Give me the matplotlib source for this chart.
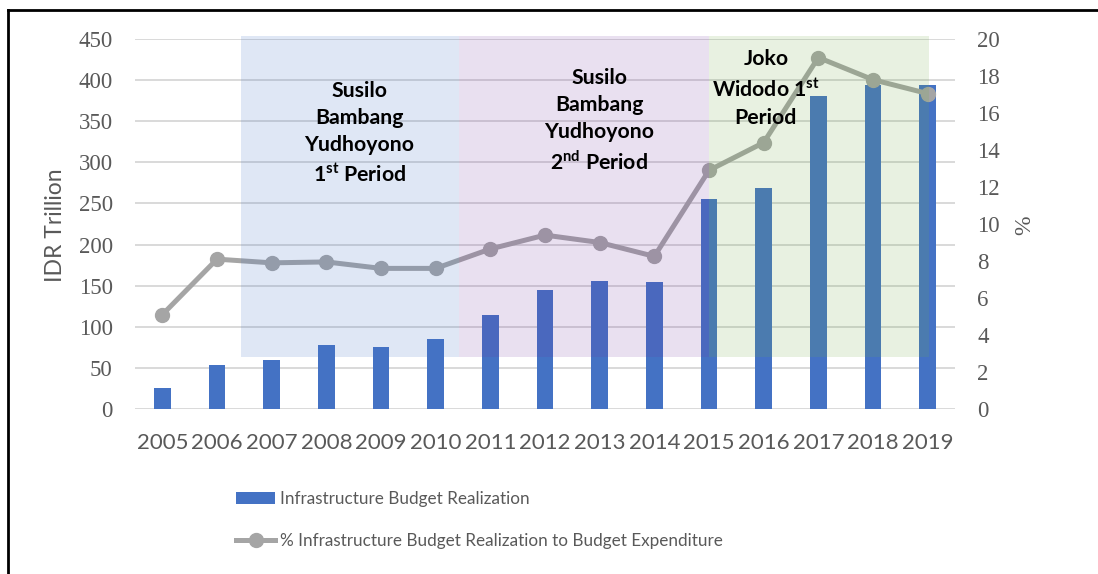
import matplotlib
matplotlib.use('Agg')
import matplotlib.pyplot as plt
from matplotlib.patches import Rectangle, Patch
from matplotlib.lines import Line2D
import numpy as np

## data
years = ['2005', '2006', '2007', '2008', '2009', '2010', '2011', '2012',
         '2013', '2014', '2015', '2016', '2017', '2018', '2019']
budget = [25, 53.5, 59, 78, 75.5, 85, 114, 145, 155.5, 154, 255.5, 269, 381, 394, 394]
pct = [5.1, 8.1, 7.9, 7.95, 7.6, 7.6, 8.65, 9.4, 9.0, 8.25, 12.9, 14.4, 19.0, 17.8, 17.05]

periods = ['Susilo\nBambang\nYudhoyono\n1$^{\\mathbf{st}}$ Period',
           'Susilo\nBambang\nYudhoyono\n2$^{\\mathbf{nd}}$ Period',
           'Joko\nWidodo 1$^{\\mathbf{st}}$\nPeriod']
period_span = [(1.43, 5.43), (5.43, 10.0), (10.0, 14.02)]
period_col = ['#4472C4', '#7030A0', '#70AD47']
period_alpha = [0.17, 0.15, 0.16]
period_text_pos = [(3.6, 17.75), (7.99, 18.45), (11.04, 19.45)]

grey = '#595959'
plt.rcParams['mathtext.fontset'] = 'custom'
plt.rcParams['mathtext.bf'] = 'Lato:bold'
plt.rcParams['mathtext.rm'] = 'Lato:bold'

fig = plt.figure(figsize=(10.98, 5.74), dpi=100)
ax = fig.add_axes([135/1098., 1-409/574., 820/1098., 370/574.])
ax2 = ax.twinx()

x = np.arange(len(years))
ax.bar(x, budget, width=0.3, color='#4472C4', zorder=2)
ax.set_xlim(-0.5, len(years)-0.5)
ax.set_ylim(0, 450)
ax.set_yticks(np.arange(0, 451, 50))
ax.grid(axis='y', color='#D9D9D9', lw=1.4, zorder=0)
ax.set_axisbelow(True)

ax2.plot(x, pct, color='#A5A5A5', lw=3.6, marker='o', ms=10, zorder=2)
ax2.set_ylim(0, 20)
ax2.set_yticks(np.arange(0, 21, 2))

## shaded presidential periods, drawn over bars and line
for (a, b), c, al in zip(period_span, period_col, period_alpha):
    r = Rectangle((a, 2.81), b-a, 20.16-2.81, facecolor=c, alpha=al,
                  edgecolor='none', zorder=3, clip_on=False)
    ax2.add_patch(r)
for t, (px, py) in zip(periods, period_text_pos):
    ax2.text(px, py, t, ha='center', va='top', fontsize=15.3, fontweight='bold',
             family='Lato', linespacing=1.45, zorder=4)

for a in (ax, ax2):
    for s in a.spines.values():
        s.set_visible(False)
    a.tick_params(length=0)

ax.set_xticks(x)
ax.set_xticklabels(years, family='Lato', fontsize=16, color=grey)
ax.tick_params(axis='x', pad=17)
ax.tick_params(axis='y', pad=16)
ax2.tick_params(axis='y', pad=16)
for lab in ax.get_yticklabels() + ax2.get_yticklabels():
    lab.set_family('Liberation Serif')
    lab.set_fontsize(16.5)
    lab.set_color(grey)

## axis titles
fig.text(55/1098., 1-225/574., 'IDR Trillion', rotation=90, ha='center', va='center',
         family='Lato', fontsize=16.5, color=grey)
fig.text(1025/1098., 1-225/574., '%', rotation=90, ha='center', va='center',
         family='Liberation Serif', fontsize=17, color=grey)

handles = [Patch(facecolor='#4472C4', edgecolor='none'),
           Line2D([], [], color='#A5A5A5', lw=3.6, marker='o', ms=10)]
labels = ['Infrastructure Budget Realization',
          '% Infrastructure Budget Realization to Budget Expenditure']
leg = fig.legend(handles, labels, loc='upper left', bbox_to_anchor=(236/1098., 1-491/574.),
                 frameon=False, borderpad=0, borderaxespad=0, handlelength=2.3,
                 handletextpad=0.25, labelspacing=1.5,
                 prop={'family': 'Lato', 'size': 12.3})
for t in leg.get_texts():
    t.set_color(grey)

## outer frame (top and left edges)
fig.add_artist(Line2D([7.5/1098., 1], [1-9.5/574., 1-9.5/574.], color='black', lw=2))
fig.add_artist(Line2D([7.5/1098., 7.5/1098.], [0, 1-9.5/574.], color='black', lw=2))

fig.savefig('out.png', dpi=100)
